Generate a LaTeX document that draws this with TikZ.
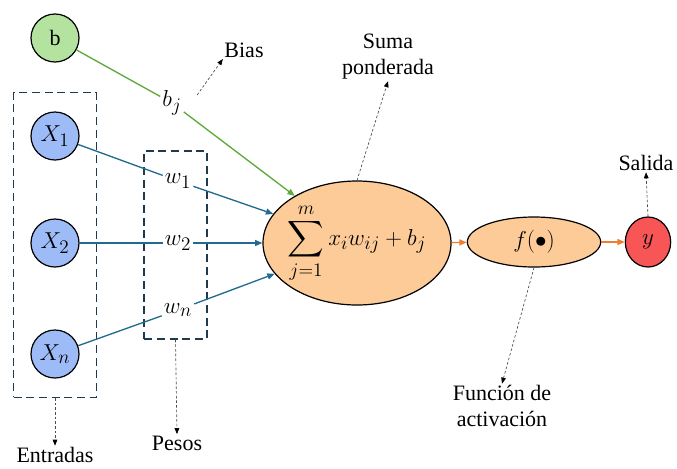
\documentclass[tikz,border=0pt]{standalone}
\usepackage{amsmath,amssymb}
\usepackage{fontspec}
\setmainfont{LiberationSerif}[Extension=.ttf, UprightFont=*-Regular, BoldFont=*-Bold, ItalicFont=*-Italic]
\usepackage{tikz}
\usepackage{xcolor}
\usetikzlibrary{arrows.meta, positioning, shapes.geometric, fit, calc}

\definecolor{biasgreen}{HTML}{B4E3A0}
\definecolor{linegreen}{HTML}{5DA93A}
\definecolor{inblue}{HTML}{9DBBF7}
\definecolor{lineblue}{HTML}{236B8E}
\definecolor{sumorange}{HTML}{FCCB98}
\definecolor{lineorange}{HTML}{ED7D31}
\definecolor{outred}{HTML}{F85656}
\definecolor{boxdash}{HTML}{1E3A4C}

\begin{document}
\begin{tikzpicture}[
  x=0.75pt, y=-0.75pt,
  font=\fontsize{16.5}{19.5}\selectfont,
  bigmath/.style={font=\fontsize{19}{22}\selectfont},
  neuron/.style={circle, draw=black, line width=0.9pt, minimum size=36pt, inner sep=0pt, bigmath},
  blob/.style={ellipse, draw=black, line width=0.9pt, fill=sumorange, inner sep=0pt, bigmath},
  groupbox/.style={draw=boxdash, line width=1.1pt, dash pattern=on 6pt off 3.5pt},
  wlabel/.style={inner sep=1.5pt, bigmath},
  arr/.style={-{Triangle[length=5.5pt,width=4.5pt]}, line width=1pt},
  note/.style={-{Triangle[length=4.5pt,width=3.5pt,color=black]}, gray!60!black, line width=0.5pt, dash pattern=on 2pt off 1.5pt},
  annot/.style={align=center, inner sep=1pt}
]
\useasboundingbox (0,0) rectangle (677,468);

% neuronas de entrada y bias
\node[neuron, fill=biasgreen, font=\fontsize{16.5}{19.5}\selectfont] (b) at (55,38) {b};
\node[neuron, fill=inblue] (x1) at (55,136) {$X_1$};
\node[neuron, fill=inblue] (x2) at (55,243) {$X_2$};
\node[neuron, fill=inblue] (xn) at (55,354) {$X_n$};

% sumatoria, activacion y salida
\node[blob, minimum width=141pt, minimum height=93pt, inner xsep=-7pt, inner ysep=-2pt] (sum) at (357,243) {$\displaystyle\sum_{j=1}^{m} x_i w_{ij} + b_j$};
\node[blob, minimum width=100pt, minimum height=37.5pt] (act) at (534,242) {$f(\bullet)$};
\node[ellipse, draw=black, line width=0.9pt, fill=outred, minimum width=34pt, minimum height=37.5pt, inner sep=0pt, bigmath] (y) at (648,242) {$y$};

% pesos
\node[wlabel] (bj) at (172,103) {$b_j$};
\node[wlabel] (w1) at (178,181) {$w_1$};
\node[wlabel] (w2) at (178,243) {$w_2$};
\node[wlabel] (wn) at (178,310) {$w_n$};

% cajas punteadas
\node[groupbox, fit=(x1)(xn), inner xsep=12.5pt, inner ysep=14pt] (inbox) {};
\node[groupbox, minimum width=47pt, minimum height=141pt] (wbox) at (175.5,245) {};

% etiquetas
\node[annot] (bias) at (244,50) {Bias};
\node[annot] (suma) at (388,57) {Suma\\ponderada};
\node[annot] (salida) at (646,163) {Salida};
\node[annot] (func) at (502,406) {Función de\\activación};
\node[annot] (entradas) at (55,455) {Entradas};
\node[annot] (pesos) at (177,443) {Pesos};

% conexiones
\draw[linegreen, line width=1pt] (b) -- (bj);
\draw[arr, linegreen] (bj) -- (sum);
\foreach \i in {1,2,n} {
  \draw[lineblue, line width=1pt] (x\i) -- (w\i);
  \draw[arr, lineblue] (w\i) -- (sum);
}
\draw[arr, lineorange] (sum) -- (act);
\draw[arr, lineorange] (act) -- (y);

% flechas de anotacion
\draw[note] ([xshift=10pt,yshift=6pt]bj.east) -- (bias.south west);
\draw[note] (sum.north) -- (suma.south);
\draw[note] (y.north) -- (salida.south);
\draw[note] (act.south) -- (func.north);
\draw[note] (inbox.south) -- (entradas.north);
\draw[note] (wbox.south) -- (pesos.north);
\end{tikzpicture}
\end{document}
